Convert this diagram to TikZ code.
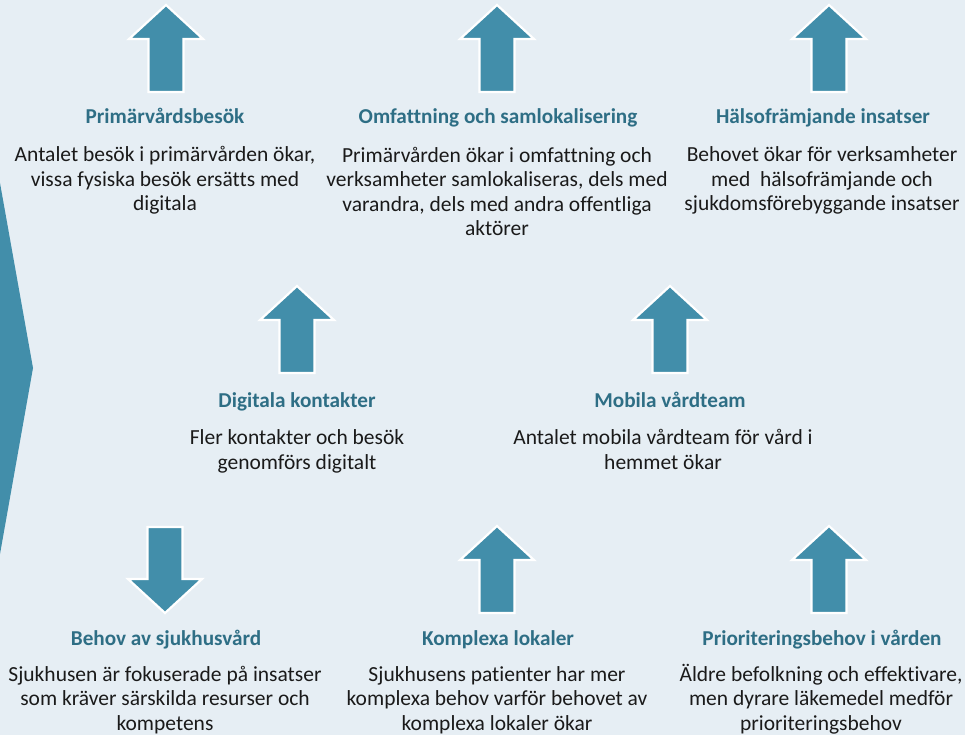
\documentclass[tikz,border=0pt]{standalone}
\usepackage{fontspec}
\setmainfont{Carlito}[Ligatures=NoCommon]
\definecolor{bgtone}{HTML}{E6EEF4}
\definecolor{tealfill}{HTML}{428EAA}
\definecolor{tealhead}{HTML}{2E6E85}
\definecolor{bodyink}{HTML}{1A1A1A}
\tikzset{
  heading/.style={font=\bfseries\fontsize{21.2}{24}\selectfont, text=tealhead, inner sep=0pt, anchor=base},
  % multi-line text is anchored at the baseline of its last line
  bodytext/.style={font=\fontsize{21.5}{24.5}\selectfont, text=bodyink, align=center, inner sep=0pt, anchor=base},
  arrowshape/.style={fill=tealfill, draw=white, line width=2.2pt, line join=miter},
  uparrow/.pic={\path[arrowshape] (0,0) -- (37,34) -- (17.5,34) -- (17.5,87) -- (-17.5,87) -- (-17.5,34) -- (-37,34) -- cycle;},
  downarrow/.pic={\path[arrowshape] (-17.5,0) -- (17.5,0) -- (17.5,52) -- (37,52) -- (0,86) -- (-37,52) -- (-17.5,52) -- cycle;}
}
\begin{document}
\begin{tikzpicture}[x=1pt,y=-1pt]
  % page background
  \fill[bgtone] (0,0) rectangle (965,735);
  \useasboundingbox (0,0) rectangle (965,735);

  % chevron tip along the left edge
  \fill[tealfill] (0,183) -- (33,368) -- (0,554) -- cycle;

  % top row
  \pic at (166,5) {uparrow};
  \pic at (497,5) {uparrow};
  \pic at (829,5) {uparrow};
  \node[heading] (h1) at (165,124) {Primärvårdsbesök};
  \node[heading] (h2) at (498,124) {Omfattning och samlokalisering};
  \node[heading] (h3) at (823,124) {Hälsofrämjande insatser};
  \node[bodytext] (b1) at (165,211) {Antalet besök i primärvården ökar,\\ vissa fysiska besök ersätts med\\ digitala};
  \node[bodytext] (b2) at (497,235.5) {Primärvården ökar i omfattning och\\ verksamheter samlokaliseras, dels med\\ varandra, dels med andra offentliga\\ aktörer};
  \node[bodytext] (b3) at (822,211) {Behovet ökar för verksamheter\\ med \ hälsofrämjande och\\ sjukdomsförebyggande insatser};

  % middle row
  \pic at (297,286) {uparrow};
  \pic at (670,286) {uparrow};
  \node[heading] (h4) at (297,407) {Digitala kontakter};
  \node[heading] (h5) at (670,407) {Mobila vårdteam};
  \node[bodytext] (b4) at (297,469) {Fler kontakter och besök\\ genomförs digitalt};
  \node[bodytext] (b5) at (663,469) {Antalet mobila vårdteam för vård i\\ hemmet ökar};

  % bottom row
  \pic at (165,527) {downarrow};
  \pic at (497,526) {uparrow};
  \pic at (829,526) {uparrow};
  \node[heading] (h6) at (166,645) {Behov av sjukhusvård};
  \node[heading] (h7) at (498,645) {Komplexa lokaler};
  \node[heading] (h8) at (822,645) {Prioriteringsbehov i vården};
  \node[bodytext] (b6) at (165,730) {Sjukhusen är fokuserade på insatser\\ som kräver särskilda resurser och\\ kompetens};
  \node[bodytext] (b7) at (497,730) {Sjukhusens patienter har mer\\ komplexa behov varför behovet av\\ komplexa lokaler ökar};
  \node[bodytext] (b8) at (821,730) {Äldre befolkning och effektivare,\\ men dyrare läkemedel medför\\ prioriteringsbehov};
\end{tikzpicture}
\end{document}
